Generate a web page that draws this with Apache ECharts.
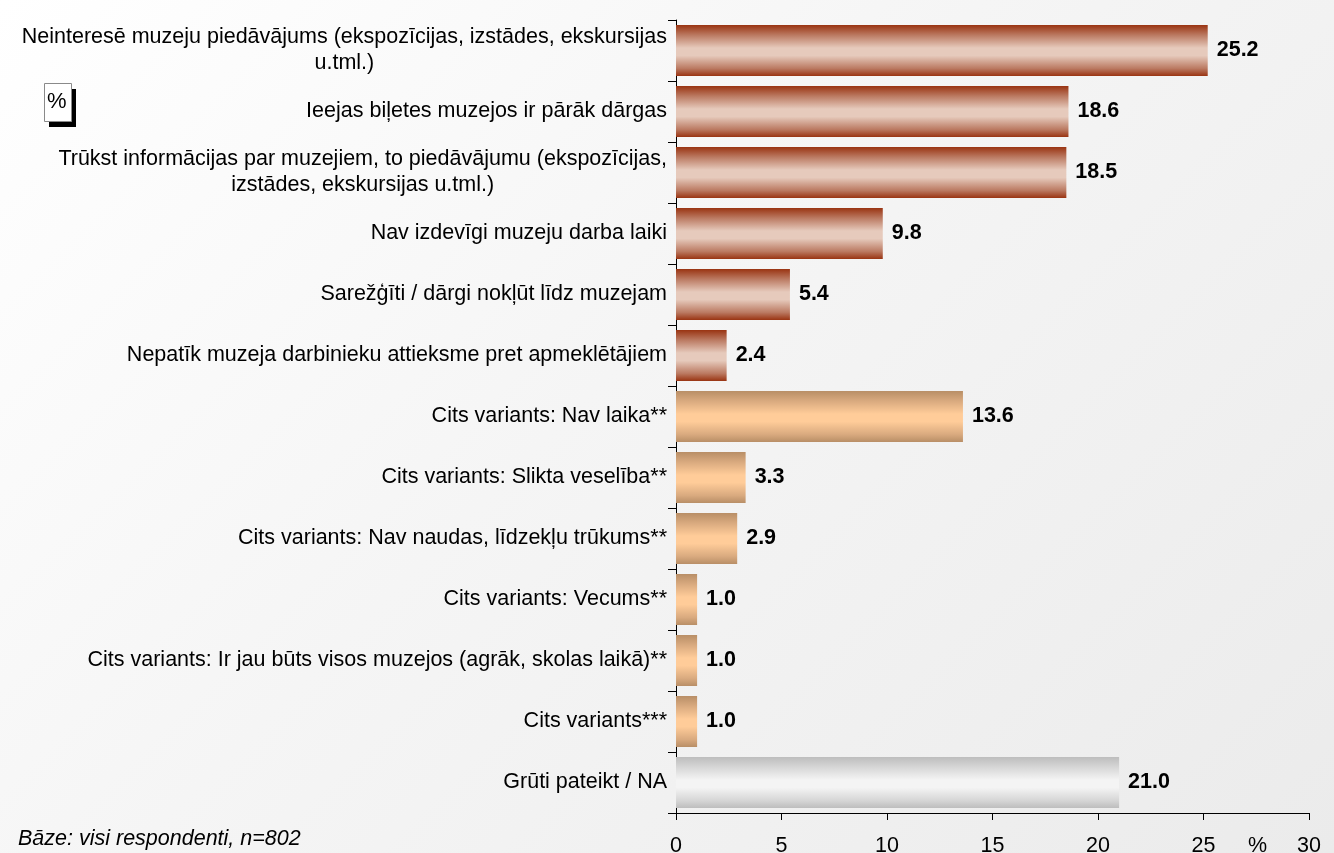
<!DOCTYPE html>
<html>
<head>
<meta charset="utf-8">
<script src="https://cdn.jsdelivr.net/npm/echarts@6/dist/echarts.min.js"></script>
<style>
  html, body { margin: 0; padding: 0; }
  #chart-1 {
    width: 1334px; height: 853px;
    background: linear-gradient(135deg, #ffffff 0%, #f5f5f5 45%, #ebebeb 100%);
  }
</style>
</head>
<body>
<div id="chart-1"></div>
<script>
/************************        Reasons for not visiting museums        **************************/

var categories = [
    'Neinteresē muzeju piedāvājums (ekspozīcijas, izstādes, ekskursijas\nu.tml.)',
    'Ieejas biļetes muzejos ir pārāk dārgas',
    'Trūkst informācijas par muzejiem, to piedāvājumu (ekspozīcijas,\nizstādes, ekskursijas u.tml.)',
    'Nav izdevīgi muzeju darba laiki',
    'Sarežģīti / dārgi nokļūt līdz muzejam',
    'Nepatīk muzeja darbinieku attieksme pret apmeklētājiem',
    'Cits variants: Nav laika**',
    'Cits variants: Slikta veselība**',
    'Cits variants: Nav naudas, līdzekļu trūkums**',
    'Cits variants: Vecums**',
    'Cits variants: Ir jau būts visos muzejos (agrāk, skolas laikā)**',
    'Cits variants***',
    'Grūti pateikt / NA'
];
var values = [25.2, 18.6, 18.5, 9.8, 5.4, 2.4, 13.6, 3.3, 2.9, 1.0, 1.0, 1.0, 21.0];
// answer group: listed reasons, other variants, hard to say
var groups = ['listed', 'listed', 'listed', 'listed', 'listed', 'listed',
              'other', 'other', 'other', 'other', 'other', 'other', 'na'];
var xTicks = [0, 5, 10, 15, 20, 25, 30];

function barFill(edge, mid, center) {
    return new echarts.graphic.LinearGradient(0, 0, 0, 1, [
        {offset: 0, color: edge},
        {offset: 0.2, color: mid},
        {offset: 0.45, color: center},
        {offset: 0.6, color: center},
        {offset: 0.85, color: mid},
        {offset: 1, color: edge}
    ]);
}
var fills = {
    listed: barFill('#993311', '#bb7a62', '#e6cabc'),
    other: barFill('#b88e66', '#d9aa7f', '#ffcc99'),
    na: barFill('#bdbdbd', '#d6d6d6', '#f4f4f4')
};

var font = 'Liberation Sans, Arial, sans-serif';

var dom = document.getElementById("chart-1");
var myChart = echarts.init(dom);
var option = {
    animation: false,
    textStyle: {fontFamily: font},
    grid: {
        left: 676,
        right: 25,
        top: 20,
        bottom: 40,
        outerBoundsMode: 'none'
    },
    xAxis: {
        type: 'value',
        min: 0,
        max: 30,
        interval: 5,
        splitLine: {show: false},
        axisLine: {show: true, lineStyle: {color: '#000', width: 1}},
        axisTick: {show: true, length: 7, lineStyle: {color: '#000'}},
        axisLabel: {
            fontSize: 21.5,
            color: '#000',
            margin: 22,
            formatter: function (v) { return xTicks.indexOf(v) >= 0 ? String(v) : ''; }
        }
    },
    yAxis: {
        type: 'category',
        inverse: true,
        data: categories,
        axisLine: {show: true, lineStyle: {color: '#000', width: 1}},
        axisTick: {show: true, length: 8, lineStyle: {color: '#000'}},
        axisLabel: {
            fontSize: 21.5,
            color: '#000',
            margin: 9,
            lineHeight: 26,
            formatter: function (v) {
                return v.split('\n').map(function (s) { return '{c|' + s + '}'; }).join('\n');
            },
            rich: {
                c: {fontSize: 21.5, color: '#000', lineHeight: 26, align: 'center'}
            }
        }
    },
    series: [
        {
            type: 'bar',
            barCategoryGap: '16%',
            data: values.map(function (v, i) {
                return {value: v, itemStyle: {color: fills[groups[i]]}};
            }),
            label: {
                show: true,
                position: 'right',
                distance: 9,
                fontSize: 21.5,
                fontWeight: 'bold',
                color: '#000',
                formatter: function (p) { return p.value.toFixed(1); }
            }
        }
    ],
    graphic: [
        {type: 'rect', left: 49, top: 89, shape: {width: 27, height: 38}, style: {fill: '#000'}},
        {type: 'rect', left: 44, top: 83, shape: {width: 27, height: 38},
            style: {fill: '#fff', stroke: '#8a8a8a', lineWidth: 1}},
        {type: 'text', left: 47, top: 91, style: {text: '%', fontSize: 22, fill: '#000', fontFamily: font}},
        {type: 'text', left: 1248, top: 835, style: {text: '%', fontSize: 21.5, fill: '#000', fontFamily: font}},
        {type: 'text', left: 18, top: 828, style: {text: 'Bāze: visi respondenti, n=802', fontSize: 21.5,
            fontStyle: 'italic', fill: '#000', fontFamily: font}}
    ]
};

myChart.setOption(option);
</script>
</body>
</html>
